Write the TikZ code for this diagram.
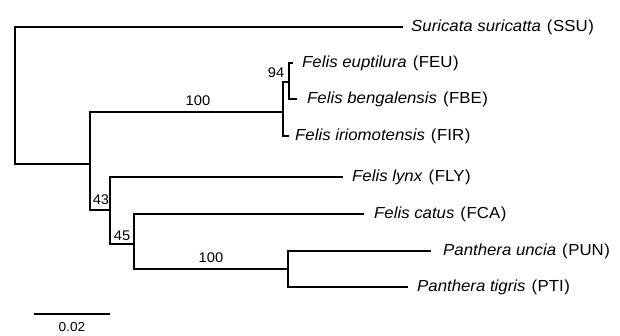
\documentclass[tikz,border=0pt]{standalone}
\usepackage{fontspec}
\setmainfont[FakeStretch=1.05]{Liberation Sans}
\newcommand{\lbl}[2]{\textit{#1}\hspace{6pt}(\kern0.6pt#2\kern0.6pt)}
\begin{document}
\begin{tikzpicture}[x=1pt,y=-1pt,
  branch/.style={line width=1.8pt,line cap=rect},
  tip/.style={anchor=west,inner sep=0pt,font=\fontsize{16}{18}\selectfont},
  boot/.style={inner sep=0pt,font=\fontsize{14}{15}\selectfont}]
\useasboundingbox (0,0) rectangle (620,336);
% internal nodes
\coordinate (root) at (15,100);
\coordinate (A) at (90,164);
\coordinate (Fel) at (283,112);
\coordinate (n94) at (289,82);
\coordinate (n43) at (110,210);
\coordinate (n45) at (134,244);
\coordinate (pan) at (288,269);
% tips
\coordinate (ssu) at (402,27);
\coordinate (feu) at (292,63);
\coordinate (fbe) at (296,99);
\coordinate (fir) at (288,136);
\coordinate (fly) at (342,177);
\coordinate (fca) at (363,214);
\coordinate (pun) at (430,251);
\coordinate (pti) at (407,287);
% branches
\draw[branch] (root) |- (ssu);
\draw[branch] (root) |- (A);
\draw[branch] (A) |- (Fel);
\draw[branch] (A) |- (n43);
\draw[branch] (Fel) |- (n94);
\draw[branch] (Fel) |- (fir);
\draw[branch] (n94) |- (feu);
\draw[branch] (n94) |- (fbe);
\draw[branch] (n43) |- (fly);
\draw[branch] (n43) |- (n45);
\draw[branch] (n45) |- (fca);
\draw[branch] (n45) |- (pan);
\draw[branch] (pan) |- (pun);
\draw[branch] (pan) |- (pti);
% tip labels
\node[tip] (tssu) at ([xshift=9pt]ssu) {\lbl{Suricata suricatta}{SSU}};
\node[tip] (tfeu) at ([xshift=10pt]feu) {\lbl{Felis euptilura}{FEU}};
\node[tip] (tfbe) at ([xshift=11pt]fbe) {\lbl{Felis bengalensis}{FBE}};
\node[tip] (tfir) at ([xshift=7pt]fir) {\lbl{Felis iriomotensis}{FIR}};
\node[tip] (tfly) at ([xshift=10pt]fly) {\lbl{Felis lynx}{FLY}};
\node[tip] (tfca) at ([xshift=11pt]fca) {\lbl{Felis catus}{FCA}};
\node[tip] (tpun) at ([xshift=13pt]pun) {\lbl{Panthera uncia}{PUN}};
\node[tip] (tpti) at ([xshift=10pt]pti) {\lbl{Panthera tigris}{PTI}};
% bootstrap values
\node[boot] (b94) at (276,73) {94};
\node[boot] (b100a) at (198,101) {100};
\node[boot] (b43) at (101,200) {43};
\node[boot] (b45) at (122,236) {45};
\node[boot] (b100b) at (211,258) {100};
% scale bar
\coordinate (s1) at (34,314);
\coordinate (s2) at (110,314);
\draw[branch,line cap=butt] (s1) -- (s2);
\node[boot,font=\fontsize{13}{14}\selectfont] (scale) at (72,327) {0.02};
\end{tikzpicture}
\end{document}
